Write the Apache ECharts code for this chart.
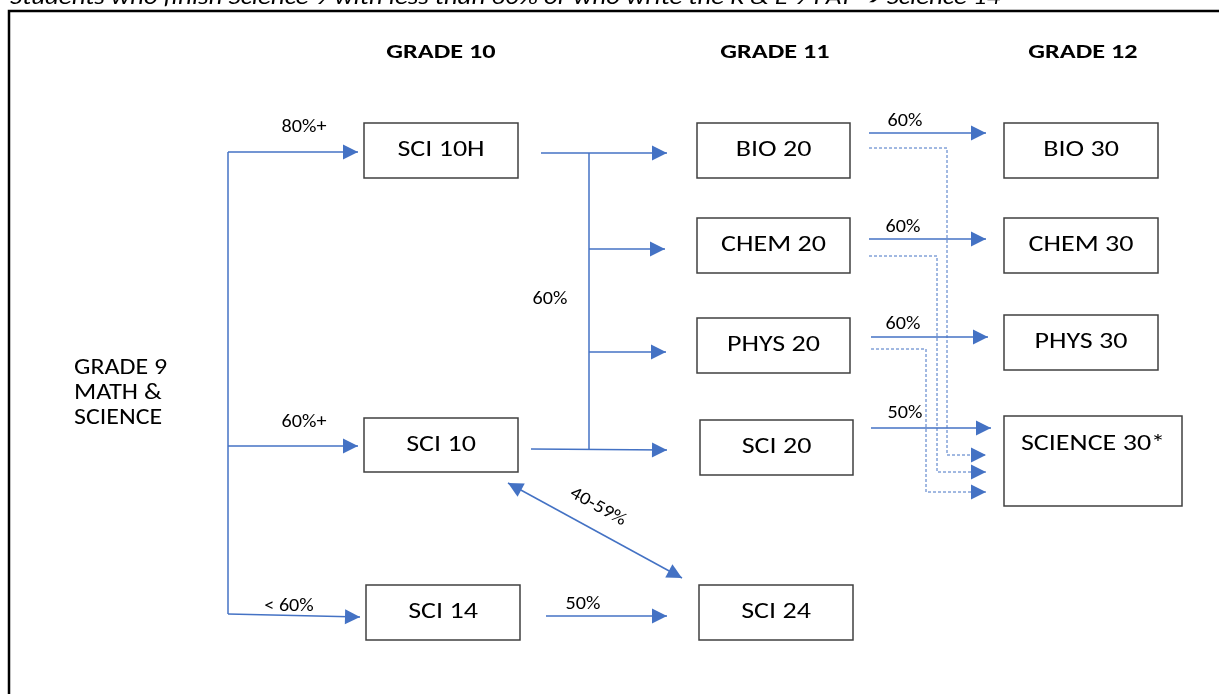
<!DOCTYPE html>
<html>
<head>
<meta charset="utf-8">
<script src="https://cdn.jsdelivr.net/npm/echarts@6/dist/echarts.min.js"></script>
<style>
html,body{margin:0;padding:0;background:#fff;overflow:hidden;}
#chart{width:1219px;height:694px;}
</style>
</head>
<body>
<div id="chart"></div>
<script>
// ---- Diagram data (diagram units map 1:1 onto the value axes) ----
const boxLabels = ['SCI 10H','SCI 10','SCI 14','BIO 20','CHEM 20','PHYS 20','SCI 20','SCI 24','BIO 30','CHEM 30','PHYS 30','SCIENCE 30*'];
const boxRects = [
  [364,123,518,178],[364,418,518,472],[366,585,520,640],
  [697,123,850,178],[697,218,850,273],[697,318,850,373],[700,420,853,475],[699,585,853,640],
  [1004,123,1158,178],[1004,218,1158,273],[1004,315,1158,370],[1004,416,1182,506]
];
const boxTextY = [null,null,null,null,null,null,null,null,null,null,null,444];

const solidPaths = [
  [[228,152],[358,152]],
  [[228,446],[358,446]],
  [[228,152],[228,614]],
  [[228,614],[360,617]],
  [[541,153],[667,153]],
  [[589,153],[589,449]],
  [[589,249],[665,249]],
  [[589,352],[666,352]],
  [[531,449],[667,450]],
  [[546,616],[667,616]],
  [[508,483],[682,578]],
  [[869,133],[986,133]],
  [[869,239],[986,239]],
  [[871,337],[988,337]],
  [[871,428],[991,428]]
];
// 0 = no head, 1 = head at end, 2 = heads at both ends
const solidHeads = [1,1,0,1,1,0,1,1,1,1,2,1,1,1,1];
const dashedPaths = [
  [[869,148],[947,148],[947,455],[986,455]],
  [[869,256],[937,256],[937,472],[986,472]],
  [[871,349],[926,349],[926,492],[986,492]]
];

const edgeLabels = ['80%+','60%+','< 60%','60%','50%','40-59%','60%','60%','60%','50%'];
const edgeLabelPos = [[304,127],[304,422],[289,606],[550,299],[583,604],[598,507],[905,121],[903,227],[903,324],[905,413]];
const edgeLabelRot = [0,0,0,0,0,-29,0,0,0,0];

const gradeHeaders = ['GRADE 10','GRADE 11','GRADE 12'];
const gradeHeaderPos = [[441,53],[775,53],[1083,53]];
const sideLines = ['GRADE 9','MATH &','SCIENCE'];
const sideLinePos = [[74,368],[74,393],[74,418]];
const topNote = 'Students who finish Science 9 with less than 60% or who write the K & E 9 PAT \u2794 Science 14';

const BLUE = '#4472C4';
const FONT = 'Carlito, Calibri, Lato, sans-serif';

function head(api, tip, from, color){
  const t = api.coord(tip), f = api.coord(from);
  const dx = t[0]-f[0], dy = t[1]-f[1];
  const len = Math.sqrt(dx*dx+dy*dy) || 1;
  const ux = dx/len, uy = dy/len;
  const L = 15, W = 7.5;
  const bx = t[0]-ux*L, by = t[1]-uy*L;
  return {type:'polygon', shape:{points:[[t[0],t[1]],[bx-uy*W,by+ux*W],[bx+uy*W,by-ux*W]]}, style:{fill:color, stroke:null}};
}
function txt(c, s, font, align, sx, rot){
  return {type:'text', x:c[0], y:c[1], scaleX:sx, rotation:rot||0,
    style:{text:s, font:font, fill:'#000', textAlign:align, textVerticalAlign:'middle'}};
}

const chart = echarts.init(document.getElementById('chart'), null, {renderer:'canvas'});
chart.setOption({
  animation:false,
  grid:{left:0,right:0,top:0,bottom:0},
  xAxis:{type:'value',min:0,max:1219,show:false},
  yAxis:{type:'value',min:0,max:694,inverse:true,show:false},
  series:[
    { // outer frame + top note
      type:'custom', data:[[0,0]],
      renderItem:function(params, api){
        const a = api.coord([9,11]), b = api.coord([1232,710]);
        const tp = api.coord([10,10]);
        return {type:'group', children:[
          {type:'rect', shape:{x:a[0],y:a[1],width:b[0]-a[0],height:b[1]-a[1]}, style:{fill:null,stroke:'#000',lineWidth:2.5}},
          {type:'text', x:tp[0], y:tp[1], scaleX:1.17, style:{text:topNote, font:'italic 23px '+FONT, fill:'#000', textAlign:'left', textVerticalAlign:'bottom'}}
        ]};
      }
    },
    { // boxes
      type:'custom', data:boxLabels.map((_, i)=>[i,i]),
      renderItem:function(params, api){
        const r = boxRects[params.dataIndex];
        const a = api.coord([r[0],r[1]]), b = api.coord([r[2],r[3]]);
        const ty = boxTextY[params.dataIndex];
        const c = api.coord([(r[0]+r[2])/2, ty!=null ? ty : (r[1]+r[3])/2]);
        return {type:'group', children:[
          {type:'rect', shape:{x:a[0],y:a[1],width:b[0]-a[0],height:b[1]-a[1]}, style:{fill:'#fff',stroke:'#404040',lineWidth:1.5}},
          txt(c, boxLabels[params.dataIndex], '23px '+FONT, 'center', 1.22)
        ]};
      }
    },
    { // solid arrows
      type:'custom', data:solidPaths.map((_, i)=>[i,i]),
      renderItem:function(params, api){
        const p = solidPaths[params.dataIndex];
        const h = solidHeads[params.dataIndex];
        const pts = p.map(q=>api.coord(q));
        const ch = [{type:'polyline', shape:{points:pts}, style:{stroke:BLUE, lineWidth:1.5, fill:null}}];
        if (h>=1) ch.push(head(api, p[p.length-1], p[p.length-2], BLUE));
        if (h===2) ch.push(head(api, p[0], p[1], BLUE));
        return {type:'group', children:ch};
      }
    },
    { // dashed arrows
      type:'custom', data:dashedPaths.map((_, i)=>[i,i]),
      renderItem:function(params, api){
        const p = dashedPaths[params.dataIndex];
        const pts = p.map(q=>api.coord(q));
        return {type:'group', children:[
          {type:'polyline', shape:{points:pts}, style:{stroke:BLUE, lineWidth:1, lineDash:[3,2], fill:null}},
          head(api, p[p.length-1], p[p.length-2], BLUE)
        ]};
      }
    },
    { // edge labels
      type:'custom', data:edgeLabels.map((_, i)=>[i,i]),
      renderItem:function(params, api){
        const i = params.dataIndex;
        const c = api.coord(edgeLabelPos[i]);
        return txt(c, edgeLabels[i], '18px '+FONT, 'center', 1.12, edgeLabelRot[i]*Math.PI/180);
      }
    },
    { // grade headers
      type:'custom', data:gradeHeaders.map((_, i)=>[i,i]),
      renderItem:function(params, api){
        const i = params.dataIndex;
        return txt(api.coord(gradeHeaderPos[i]), gradeHeaders[i], 'bold 21px '+FONT, 'center', 1.25);
      }
    },
    { // grade 9 side label
      type:'custom', data:sideLines.map((_, i)=>[i,i]),
      renderItem:function(params, api){
        const i = params.dataIndex;
        return txt(api.coord(sideLinePos[i]), sideLines[i], '22px '+FONT, 'left', 1.18);
      }
    }
  ]
});
</script>
</body>
</html>
